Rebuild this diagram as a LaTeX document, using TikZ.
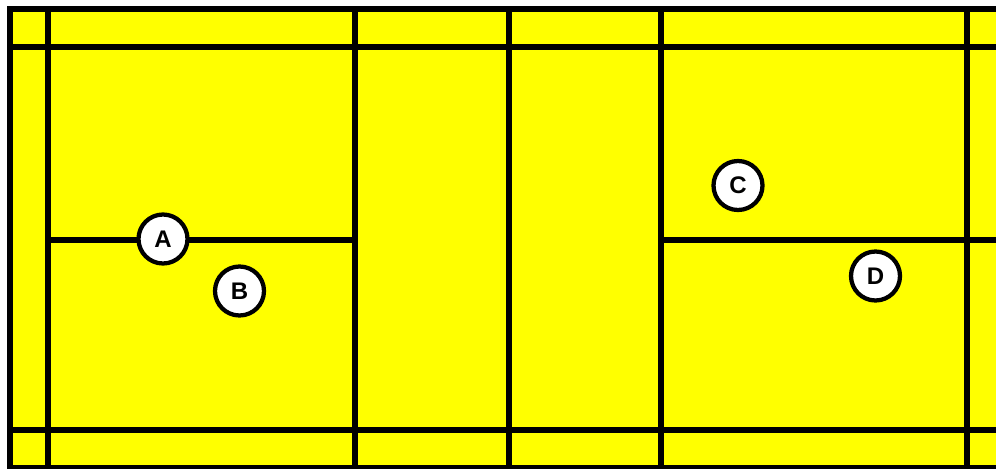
\documentclass[tikz,border=0pt]{standalone}
\usepackage{fontspec}
\setsansfont{Liberation Sans}
\usetikzlibrary{positioning}
\definecolor{CourtYellow}{HTML}{FFFF00}
\definecolor{CourtLine}{HTML}{000000}
\newcommand{\PlayerFont}{\fontsize{18}{19}\selectfont\sffamily\bfseries}
\tikzset{
  courtline/.style={
    draw=CourtLine,
    line width=4.5pt
  },
  player/.style={
    circle,
    draw=CourtLine,
    fill=white,
    line width=3.2pt,
    minimum size=36.75pt,
    inner sep=0pt,
    text=CourtLine,
    font=\PlayerFont
  }
}

\begin{document}
\begin{tikzpicture}[x=0.75pt,y=-0.75pt]
\path[use as bounding box] (0,0) rectangle (996,468);

\begin{scope}
\clip (0,0) rectangle (996,468);
% court surface and boundary
\fill[CourtYellow] (10,8.5) rectangle (1005,468);
\draw[courtline] (10,8.5) rectangle (1005,468);

% long service lines (doubles) and side lines
\draw[courtline] (10,47) -- (1005,47);
\draw[courtline] (10,430) -- (1005,430);

% back, service and net lines
\foreach \xx in {48,354.7,508.7,660.7,967}
  \draw[courtline] (\xx,8.5) -- (\xx,468);

% centre lines
\coordinate (lsvc) at (354.7,239.5);
\coordinate (rsvc) at (660.7,239.5);
\draw[courtline] (48,239.5) -- (lsvc);
\draw[courtline] (rsvc) -- (1005,239.5);
\end{scope}

% players
\node[player] (pA) at (163,239) {A};
\node[player] (pB) at (239.5,291) {B};
\node[player] (pC) at (738,185.5) {C};
\node[player] (pD) at (875.5,276) {D};

\end{tikzpicture}
\end{document}
